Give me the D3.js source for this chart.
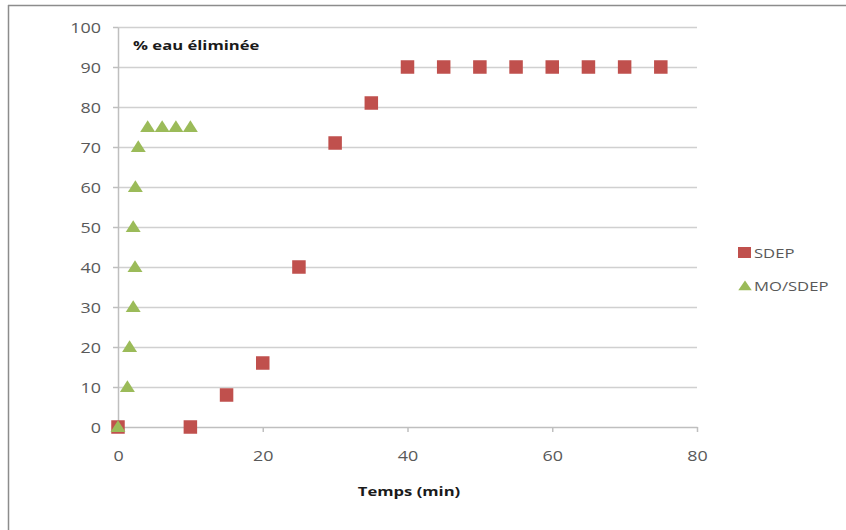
<!DOCTYPE html>
<html><head><meta charset="utf-8">
<script src="https://cdn.jsdelivr.net/npm/d3@7"></script>
<style>body{margin:0;background:#fff}svg{display:block}text{font-family:"Open Sans",sans-serif}</style>
</head><body><svg id="c" width="846" height="530"></svg>
<script>
const sdepX = [0,10,15,20,25,30,35,40,45,50,55,60,65,70,75];
const sdepY = [0,0,8,16,40,71,81,90,90,90,90,90,90,90,90];
const moX = [0,1.3,1.6,2.1,2.35,2.1,2.4,2.8,4.1,6.1,8,10];
const moY = [0,10,20,30,40,50,60,70,75,75,75,75];
const xTicks = [0,20,40,60,80];
const yTicks = [0,10,20,30,40,50,60,70,80,90,100];
const seriesNames = ["SDEP","MO/SDEP"];
const colors = ["#c0504d","#9bbb59"];
const SX = 1.28; // horizontal stretch of the reference text

const svg = d3.select("#c");
svg.append("line").attr("x1",8).attr("x2",846).attr("y1",5.5).attr("y2",5.5).attr("stroke","#8c8c8c").attr("stroke-width",1.5);
svg.append("line").attr("x1",8.5).attr("x2",8.5).attr("y1",5).attr("y2",530).attr("stroke","#8c8c8c").attr("stroke-width",1.5);

const x = d3.scaleLinear().domain([0,80]).range([118,697]);
const y = d3.scaleLinear().domain([0,100]).range([427,27]);

svg.append("g").selectAll("line").data(yTicks.filter(d=>d>0)).join("line")
  .attr("x1",x(0)).attr("x2",x(80)).attr("y1",d=>Math.round(y(d))+0.5).attr("y2",d=>Math.round(y(d))+0.5)
  .attr("stroke","#d0d0d0").attr("stroke-width",1.5);

// stretched text helper
function stext(g, tx, ty, str, size, weight, anchor, fill){
  return g.append("text").attr("transform",`translate(${tx},${ty}) scale(${SX},1)`)
    .attr("text-anchor",anchor).attr("font-size",size+"px").attr("font-weight",weight)
    .attr("fill",fill).text(str);
}

// y axis
const ya = svg.append("g").attr("transform",`translate(${x(0)},0)`)
  .call(d3.axisLeft(y).tickValues(yTicks).tickSize(5).tickSizeOuter(0).tickFormat(""));
ya.select(".domain").attr("stroke","#bfbfbf").attr("stroke-width",1.5);
ya.selectAll(".tick line").attr("stroke","#bfbfbf").attr("stroke-width",1.5);
ya.selectAll(".tick text").remove();
ya.selectAll(".tick").each(function(d){
  stext(d3.select(this), -17, 5, d, 14, "normal", "end", "#595959");
});

// x axis
const xa = svg.append("g").attr("transform",`translate(0,${y(0)})`)
  .call(d3.axisBottom(x).tickValues(xTicks).tickSize(5).tickSizeOuter(0).tickFormat(""));
xa.select(".domain").attr("stroke","#bfbfbf").attr("stroke-width",1.5);
xa.selectAll(".tick line").attr("stroke","#bfbfbf").attr("stroke-width",1.5);
xa.selectAll(".tick text").remove();
xa.selectAll(".tick").each(function(d){
  stext(d3.select(this), 0, 34, d, 14, "normal", "middle", "#595959");
});

// titles
stext(svg, 133, 50, "% eau éliminée", 13, "bold", "start", "#1a1a1a");
stext(svg, 409, 496, "Temps (min)", 13, "bold", "middle", "#1a1a1a");

const sq = 13.5;
const tri = d3.symbol().type(d3.symbolTriangle).size(80);

svg.append("g").selectAll("rect").data(sdepX.map((d,i)=>[d,sdepY[i]])).join("rect")
  .attr("x",d=>x(d[0])-sq/2).attr("y",d=>y(d[1])-sq/2).attr("width",sq).attr("height",sq)
  .attr("fill",colors[0]);
svg.append("g").selectAll("path").data(moX.map((d,i)=>[d,moY[i]])).join("path")
  .attr("d",tri).attr("transform",d=>`translate(${x(d[0])},${y(d[1])+1}) scale(1.1,1)`)
  .attr("fill",colors[1]);

// legend
const lg = svg.append("g");
lg.append("rect").attr("x",738).attr("y",247).attr("width",13).attr("height",11).attr("fill",colors[0]);
lg.append("path").attr("d",d3.symbol().type(d3.symbolTriangle).size(55)).attr("transform","translate(745,287) scale(1.2,1)").attr("fill",colors[1]);
seriesNames.forEach((n,i)=>stext(lg, 754, 258+i*33, n, 13, "normal", "start", "#595959"));
</script></body></html>
